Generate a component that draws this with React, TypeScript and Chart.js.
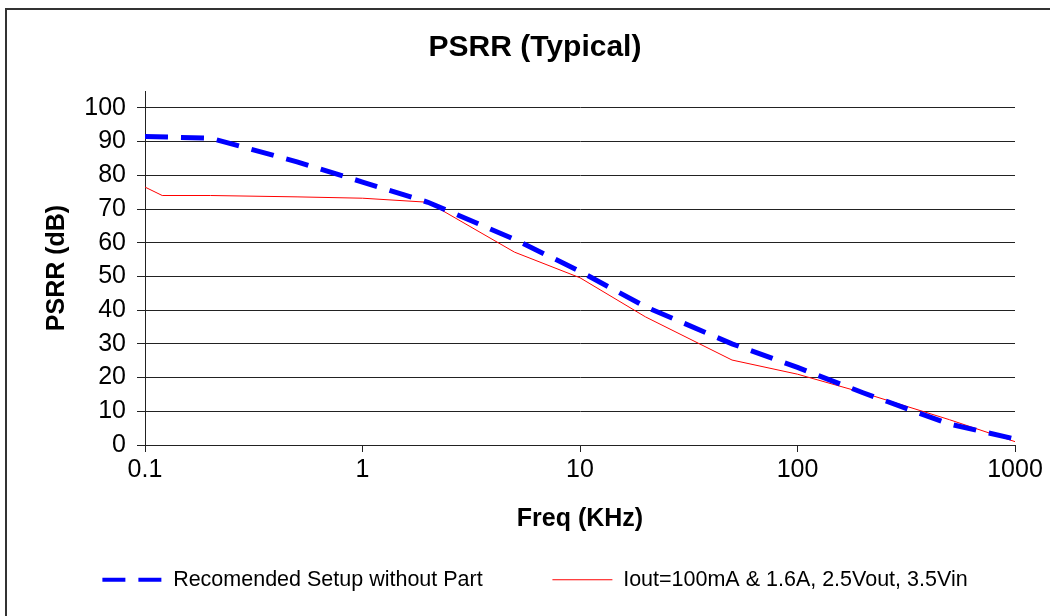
import React, { useEffect, useRef } from "react";
import { Chart, registerables } from "chart.js";

Chart.register(...registerables);

// ---- data ----
const recommendedFreqKHz = [0.1, 0.2, 0.5, 1, 2, 5, 10, 20, 50, 100, 200, 500, 1000];
const recommendedPSRR = [91.5, 91, 84, 78, 72, 61, 51.5, 41, 30, 23, 15.5, 6.2, 1.8];

const ioutFreqKHz = [0.1, 0.12, 0.2, 0.5, 1, 2, 5, 10, 20, 50, 100, 200, 500, 1000];
const ioutPSRR = [76.5, 74, 74, 73.6, 73.2, 72, 57.2, 49.6, 38, 25.2, 21, 15.5, 7.5, 1];

const seriesLabels = [
  "Recomended Setup without Part",
  "Iout=100mA & 1.6A, 2.5Vout, 3.5Vin",
];

const xTickValues = [0.1, 1, 10, 100, 1000];
const yTickValues = [0, 10, 20, 30, 40, 50, 60, 70, 80, 90, 100];

const chartTitle = "PSRR (Typical)";
const xAxisTitle = "Freq (KHz)";
const yAxisTitle = "PSRR (dB)";

const FONT = "'Liberation Sans', Arial, Helvetica, sans-serif";

const PAD_LEFT = 55;

export default function App() {
  const canvasRef = useRef<HTMLCanvasElement | null>(null);

  useEffect(() => {
    const canvas = canvasRef.current;
    if (!canvas) return;

    const chart = new Chart(canvas, {
      type: "line",
      data: {
        datasets: [
          {
            label: seriesLabels[0],
            data: recommendedFreqKHz.map((f, i) => ({ x: f, y: recommendedPSRR[i] })),
            borderColor: "#0000ff",
            backgroundColor: "#0000ff",
            borderWidth: 5,
            borderDash: [23, 13],
            borderCapStyle: "butt",
            pointRadius: 0,
            fill: false,
            tension: 0,
          },
          {
            label: seriesLabels[1],
            data: ioutFreqKHz.map((f, i) => ({ x: f, y: ioutPSRR[i] })),
            borderColor: "#ff0000",
            backgroundColor: "#ff0000",
            borderWidth: 1,
            pointRadius: 0,
            fill: false,
            tension: 0,
          },
        ],
      },
      options: {
        animation: false,
        responsive: false,
        maintainAspectRatio: false,
        layout: { padding: { left: PAD_LEFT, right: 35, top: 0, bottom: 15.5 } },
        plugins: {
          title: {
            display: true,
            text: chartTitle,
            color: "#000",
            font: { family: FONT, size: 30, weight: "bold" },
            padding: { top: 29.5, bottom: 25.5 },
          },
          legend: {
            position: "bottom",
            labels: {
              usePointStyle: true,
              pointStyle: "line",
              pointStyleWidth: 60,
              padding: 10,
              color: "#000",
              font: { family: FONT, size: 21.5 },
              generateLabels: (c: any) => {
                const items = (Chart as any).defaults.plugins.legend.labels.generateLabels(c);
                items.forEach((it: any) => {
                  it.pointStyle = "line";
                });
                if (items[0]) {
                  items[0].text = items[0].text + "          ";
                  items[0].lineDash = [23, 13];
                  items[0].lineWidth = 4;
                  items[0].strokeStyle = "#0000ff";
                }
                if (items[1]) {
                  items[1].lineDash = [];
                  items[1].lineWidth = 1;
                  items[1].strokeStyle = "#ff0000";
                }
                return items;
              },
            },
          },
          tooltip: { enabled: false },
        },
        scales: {
          x: {
            type: "logarithmic",
            min: 0.1,
            max: 1000,
            afterBuildTicks: (s: any) => {
              s.ticks = xTickValues.map((v) => ({ value: v }));
            },
            afterFit: (s: any) => {
              s.height = 114;
            },
            ticks: {
              autoSkip: false,
              maxRotation: 0,
              padding: 3,
              color: "#000",
              font: { family: FONT, size: 25 },
              callback: (v: any) => String(v),
            },
            grid: {
              drawOnChartArea: false,
              drawTicks: true,
              tickLength: 7,
              color: "#222",
            },
            border: { display: true, color: "#222", width: 1 },
            title: {
              display: true,
              text: xAxisTitle,
              color: "#000",
              font: { family: FONT, size: 25, weight: "bold" },
              padding: { top: 0, bottom: 25 },
            },
          },
          y: {
            type: "linear",
            min: 0,
            max: 105,
            afterBuildTicks: (s: any) => {
              s.ticks = yTickValues.map((v) => ({ value: v }));
            },
            afterFit: (s: any) => {
              s.width = 145 - PAD_LEFT;
            },
            ticks: {
              padding: 11,
              color: "#000",
              font: { family: FONT, size: 25 },
            },
            grid: {
              color: "#222",
              lineWidth: 1,
              tickLength: 8,
            },
            border: { display: true, color: "#222", width: 1 },
            title: {
              display: true,
              text: yAxisTitle,
              color: "#000",
              font: { family: FONT, size: 25, weight: "bold" },
              padding: { top: 57 - PAD_LEFT - 15, bottom: 0 },
            },
          },
        },
      } as any,
    });

    return () => chart.destroy();
  }, []);

  return (
    <div>
      <div
        style={{
          position: "fixed",
          left: 5,
          top: 8,
          width: 2000,
          height: 2000,
          borderLeft: "2px solid #333",
          borderTop: "2px solid #333",
          boxSizing: "border-box",
          background: "#fff",
        }}
      />
      <div style={{ position: "fixed", left: 0, top: 0, width: 1050, height: 616 }}>
        <canvas ref={canvasRef} width={1050} height={616} style={{ width: 1050, height: 616 }} />
      </div>
    </div>
  );
}
